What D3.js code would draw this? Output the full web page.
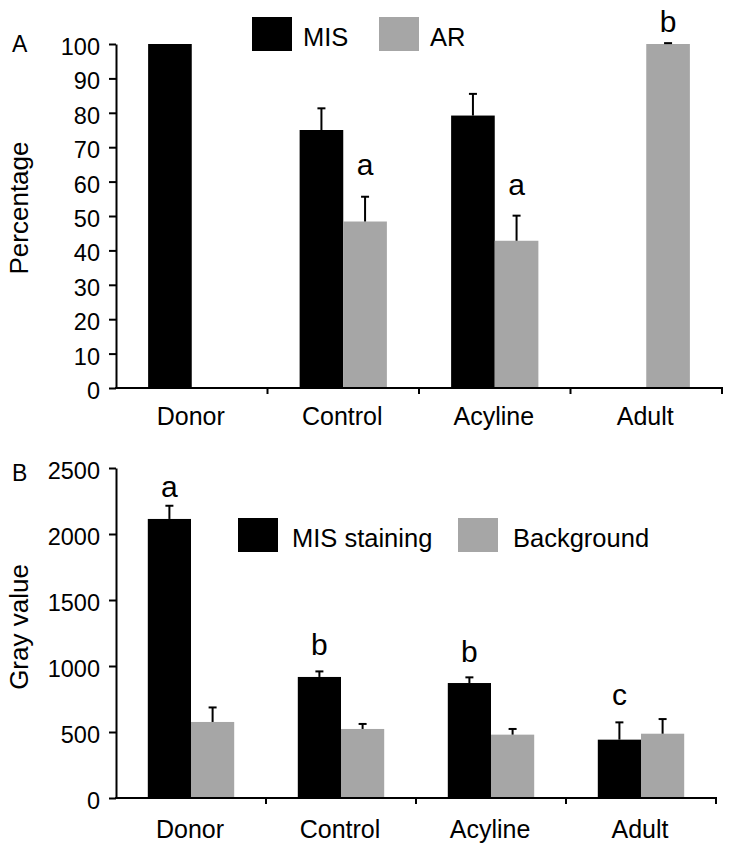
<!DOCTYPE html>
<html>
<head>
<meta charset="utf-8">
<script src="https://cdn.jsdelivr.net/npm/d3@7"></script>
<style>
  html, body { margin: 0; padding: 0; background: #fff; }
  svg { display: block; }
  text { font-family: Arial, "Liberation Sans", Helvetica, sans-serif; fill: #000; }
</style>
</head>
<body>
<svg id="chart" width="732" height="854"></svg>
<script>
// ---------- data ----------
const categories = ["Donor", "Control", "Acyline", "Adult"];

// Panel A
const seriesA = ["MIS", "AR"];
const misA = [100, 75, 79.2, null];
const misAErr = [0, 6.3, 6.3, null];
const arA = [null, 48.4, 42.8, 100];
const arAErr = [null, 7.2, 7.3, 0.25];
const ticksA = [0, 10, 20, 30, 40, 50, 60, 70, 80, 90, 100];
const lettersA = [
  { cat: "Control", series: 1, text: "a", at: 62 },
  { cat: "Acyline", series: 1, text: "a", at: 56 },
  { cat: "Adult", series: 1, text: "b", at: 103.5 }
];

// Panel B
const seriesB = ["MIS staining", "Background"];
const misB = [2114, 917, 871, 442];
const misBErr = [100, 42, 43, 131];
const bgB = [576, 523, 480, 487];
const bgBErr = [110, 38, 43, 111];
const ticksB = [0, 500, 1000, 1500, 2000, 2500];
const lettersB = [
  { cat: "Donor", series: 0, text: "a", at: 2283 },
  { cat: "Control", series: 0, text: "b", at: 1086 },
  { cat: "Acyline", series: 0, text: "b", at: 1033 },
  { cat: "Adult", series: 0, text: "c", at: 707 }
];

const colors = ["#000000", "#a6a6a6"];

// ---------- drawing ----------
const svg = d3.select("#chart");

function drawPanel(cfg) {
  const g = svg.append("g");
  const x0 = d3.scaleBand().domain(categories).range([cfg.left, cfg.right]).padding(0);
  const bw = x0.bandwidth() * 0.288;
  const y = d3.scaleLinear().domain(cfg.domain).range([cfg.bottom, cfg.top]);
  const barX = (cat, s) => x0(cat) + x0.bandwidth() / 2 + (s === 0 ? -bw : 0);

  // bars
  const rows = [];
  cfg.values.forEach((vals, s) => {
    vals.forEach((v, i) => {
      if (v !== null) rows.push({ cat: categories[i], s, v, e: cfg.errs[s][i] });
    });
  });
  g.selectAll("rect.bar").data(rows).join("rect")
    .attr("class", "bar")
    .attr("x", d => barX(d.cat, d.s))
    .attr("width", bw)
    .attr("y", d => y(d.v))
    .attr("height", d => y(0) - y(d.v))
    .attr("fill", d => colors[d.s]);

  // error bars (upper only)
  const eb = rows.filter(d => d.e > 0);
  const cx = d => barX(d.cat, d.s) + bw / 2;
  g.selectAll("line.err").data(eb).join("line")
    .attr("class", "err")
    .attr("x1", cx).attr("x2", cx)
    .attr("y1", d => y(d.v)).attr("y2", d => y(d.v + d.e))
    .attr("stroke", "#000").attr("stroke-width", 2);
  g.selectAll("line.cap").data(eb).join("line")
    .attr("class", "cap")
    .attr("x1", d => cx(d) - 4).attr("x2", d => cx(d) + 4)
    .attr("y1", d => y(d.v + d.e)).attr("y2", d => y(d.v + d.e))
    .attr("stroke", "#000").attr("stroke-width", 2);

  // y axis
  const yAxis = g.append("g")
    .attr("transform", `translate(${cfg.left},0)`)
    .call(d3.axisLeft(y).tickValues(cfg.ticks).tickFormat(d3.format("d"))
      .tickSize(7).tickPadding(9).tickSizeOuter(0));
  yAxis.select(".domain").attr("stroke", "#000").attr("stroke-width", 2);
  yAxis.selectAll(".tick line").attr("stroke", "#000").attr("stroke-width", 2);
  yAxis.selectAll(".tick text")
    .attr("font-size", 23.5).attr("fill", "#000")
    .attr("font-family", "Arial, 'Liberation Sans', sans-serif")
    .attr("dy", "0.45em");

  // x axis baseline
  g.append("line")
    .attr("x1", cfg.left - 1).attr("x2", cfg.right + 1)
    .attr("y1", y(0)).attr("y2", y(0))
    .attr("stroke", "#000").attr("stroke-width", 2);
  // boundary ticks
  g.selectAll("line.xt").data(categories).join("line")
    .attr("class", "xt")
    .attr("x1", d => x0(d) + x0.bandwidth()).attr("x2", d => x0(d) + x0.bandwidth())
    .attr("y1", y(0)).attr("y2", y(0) + 6)
    .attr("stroke", "#000").attr("stroke-width", 2);
  // category labels
  g.selectAll("text.xl").data(categories).join("text")
    .attr("class", "xl")
    .attr("x", d => x0(d) + x0.bandwidth() / 2 - 1)
    .attr("y", y(0) + cfg.labelGap)
    .attr("text-anchor", "middle")
    .attr("font-size", 25)
    .text(d => d);

  // significance letters
  g.selectAll("text.sig").data(cfg.letters).join("text")
    .attr("class", "sig")
    .attr("x", d => barX(d.cat, d.series) + bw / 2)
    .attr("y", d => y(d.at))
    .attr("text-anchor", "middle")
    .attr("font-size", 30)
    .text(d => d.text);

  // y title
  g.append("text")
    .attr("transform", `translate(28,${cfg.titleY}) rotate(-90)`)
    .attr("text-anchor", "middle")
    .attr("font-size", 26)
    .text(cfg.yTitle);

  // panel label
  g.append("text")
    .attr("x", 12).attr("y", cfg.panelY)
    .attr("font-size", 23)
    .text(cfg.panel);

  // legend
  cfg.series.forEach((name, s) => {
    const L = cfg.legend[s];
    g.append("rect")
      .attr("x", L.x).attr("y", L.y).attr("width", 40).attr("height", 34)
      .attr("fill", colors[s]);
    g.append("text")
      .attr("x", L.x + L.tx).attr("y", L.y + 29)
      .attr("font-size", 25.5)
      .text(name);
  });
}

drawPanel({
  left: 116, right: 722, top: 44, bottom: 388,
  domain: [0, 100], ticks: ticksA,
  values: [misA, arA], errs: [misAErr, arAErr],
  letters: lettersA, series: seriesA,
  yTitle: "Percentage", titleY: 208,
  panel: "A", panelY: 52, labelGap: 37,
  legend: [{ x: 252, y: 17, tx: 51 }, { x: 379, y: 17, tx: 51 }]
});

drawPanel({
  left: 116, right: 716, top: 468, bottom: 798,
  domain: [0, 2500], ticks: ticksB,
  values: [misB, bgB], errs: [misBErr, bgBErr],
  letters: lettersB, series: seriesB,
  yTitle: "Gray value", titleY: 627,
  panel: "B", panelY: 481, labelGap: 40,
  legend: [{ x: 238, y: 518, tx: 54 }, { x: 458, y: 518, tx: 55 }]
});
</script>
</body>
</html>
